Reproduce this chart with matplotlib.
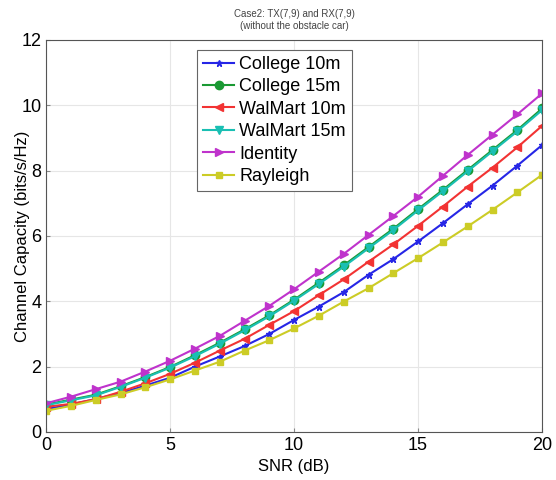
import numpy as np
import matplotlib
matplotlib.use('Agg')
import matplotlib.pyplot as plt

plt.rcParams['font.family'] = ['Liberation Sans', 'DejaVu Sans']

# SNR axis and capacity values
snr = list(range(0, 21))
college_10 = [0.70, 0.84, 1.01, 1.19, 1.42, 1.66, 2.00, 2.31, 2.63, 3.00, 3.43,
              3.84, 4.28, 4.81, 5.29, 5.83, 6.39, 6.97, 7.54, 8.15, 8.78]
college_15 = [0.84, 0.99, 1.14, 1.40, 1.68, 1.99, 2.35, 2.73, 3.14, 3.57, 4.05,
              4.57, 5.10, 5.66, 6.22, 6.82, 7.41, 8.02, 8.63, 9.24, 9.90]
walmart_10 = [0.77, 0.86, 1.00, 1.23, 1.49, 1.78, 2.12, 2.49, 2.85, 3.28, 3.70,
              4.19, 4.67, 5.21, 5.74, 6.31, 6.90, 7.51, 8.09, 8.71, 9.37]
walmart_15 = [0.82, 0.97, 1.12, 1.38, 1.66, 1.97, 2.32, 2.70, 3.11, 3.54, 4.02,
              4.53, 5.06, 5.62, 6.18, 6.78, 7.37, 7.98, 8.59, 9.20, 9.85]
identity = [0.88, 1.08, 1.31, 1.54, 1.85, 2.18, 2.55, 2.94, 3.40, 3.86, 4.37,
            4.91, 5.45, 6.03, 6.61, 7.20, 7.84, 8.48, 9.10, 9.72, 10.36]
rayleigh = [0.65, 0.80, 0.98, 1.15, 1.37, 1.61, 1.88, 2.15, 2.49, 2.81, 3.17,
            3.56, 3.99, 4.40, 4.86, 5.32, 5.80, 6.29, 6.80, 7.33, 7.87]

series = [
    ('College 10m', college_10, (0.15, 0.15, 0.9), '*', 5),
    ('College 15m', college_15, (0.1, 0.6, 0.2), 'o', 6),
    ('WalMart 10m', walmart_10, (0.95, 0.2, 0.2), '<', 6),
    ('WalMart 15m', walmart_15, (0.1, 0.75, 0.7), 'v', 6),
    ('Identity', identity, (0.75, 0.2, 0.8), '>', 6),
    ('Rayleigh', rayleigh, (0.8, 0.8, 0.15), 's', 5),
]

fig = plt.figure(figsize=(5.56, 4.80), dpi=100)
ax = fig.add_axes([0.083, 0.1, 0.892, 0.817])

for name, vals, col, mk, ms in series:
    ax.plot(snr, vals, color=col, marker=mk, markersize=ms, markerfacecolor=col,
            markeredgecolor=col, linewidth=1.5, label=name)

ax.set_xlim(0, 20)
ax.set_ylim(0, 12)
ax.set_xticks([0, 5, 10, 15, 20])
ax.set_yticks([0, 2, 4, 6, 8, 10, 12])
ax.tick_params(direction='in', labelsize=13, length=3, color='#888888')
ax.grid(True, color='#e6e6e6', linewidth=0.8)
for sp in ax.spines.values():
    sp.set_color('#555555')

ax.set_xlabel('SNR (dB)', fontsize=12)
ax.set_ylabel('Channel Capacity (bits/s/Hz)', fontsize=12)
ax.yaxis.set_label_coords(-0.033, 0.5)
ax.set_title('Case2: TX(7,9) and RX(7,9)\n(without the obstacle car)',
             fontsize=7, color='#444444', pad=8)

leg = ax.legend(loc='upper left', bbox_to_anchor=(0.286, 0.998), fontsize=13,
                fancybox=False, framealpha=1, edgecolor='#666666',
                handlelength=1.7, handletextpad=0.3, labelspacing=0.3,
                borderpad=0.35)
leg.get_frame().set_linewidth(0.8)

fig.savefig('out.png', dpi=100)
